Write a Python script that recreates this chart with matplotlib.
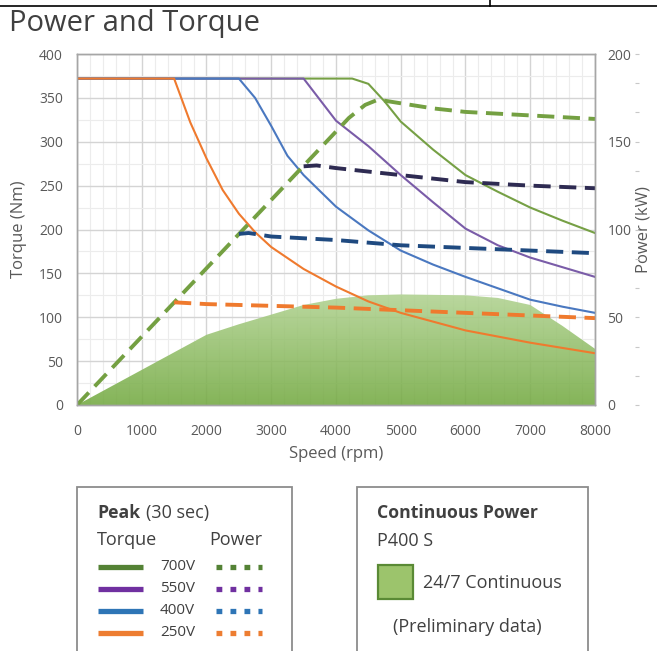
import numpy as np
import matplotlib.pyplot as plt
from matplotlib.patches import Polygon, Rectangle
from matplotlib.lines import Line2D
from matplotlib.colors import LinearSegmentedColormap
from matplotlib.ticker import MultipleLocator

plt.rcParams['font.family'] = ['Open Sans', 'DejaVu Sans']

# --- data ---
voltages = ['700V', '550V', '400V', '250V']

# peak torque (Nm) vs speed (rpm)
speed_700 = [0, 4250, 4500, 4750, 5000, 5500, 6000, 6500, 7000, 7500, 8000]
torque_700 = [372, 372, 366, 346, 323, 291, 262, 243, 225, 210, 196]
speed_550 = [0, 3500, 3750, 4000, 4500, 5000, 5500, 6000, 6500, 7000, 7500, 8000]
torque_550 = [372, 372, 348, 324, 295, 262, 231, 201, 182, 168, 157, 146]
speed_400 = [0, 2500, 2750, 3000, 3250, 3500, 4000, 4500, 5000, 5500, 6000, 6500, 7000, 7500, 8000]
torque_400 = [372, 372, 350, 318, 284, 262, 226, 199, 176, 160, 146, 133, 120, 112, 105]
speed_250 = [0, 1500, 1750, 2000, 2250, 2500, 2750, 3000, 3500, 4000, 4500, 5000, 5500, 6000, 6500, 7000, 7500, 8000]
torque_250 = [372, 372, 322, 281, 245, 218, 197, 180, 155, 135, 118, 105, 95, 85, 78, 71, 65, 59]

# peak power (kW) vs speed (rpm)
pspeed_700 = [0, 4200, 4450, 4650, 4900, 5500, 6000, 7000, 8000]
power_700 = [0, 163.6, 171, 174, 172.5, 169, 167, 165, 163]
pspeed_550 = [3500, 3700, 4000, 5000, 6000, 7000, 8000]
power_550 = [136, 136.5, 135, 131, 127, 125, 123.5]
pspeed_400 = [2500, 2650, 3000, 4000, 5000, 6000, 7000, 8000]
power_400 = [97.5, 98, 96, 94, 91, 89.5, 88, 86.5]
pspeed_250 = [1500, 2000, 3000, 4000, 5000, 6000, 7000, 8000]
power_250 = [58.5, 57.5, 56.5, 55.5, 54, 52.5, 51, 49.5]

# continuous power P400 S (kW)
cont_speed = [0, 1000, 2000, 2500, 3000, 3500, 4000, 4500, 5000, 6000, 6500, 7000, 7500, 8000]
cont_power = [0, 20, 40, 46, 51.5, 57, 60.5, 62.5, 63, 62.5, 61, 57, 45, 32]

x_ticks = [0, 1000, 2000, 3000, 4000, 5000, 6000, 7000, 8000]
torque_ticks = [0, 50, 100, 150, 200, 250, 300, 350, 400]
power_ticks = [0, 50, 100, 150, 200]

torque_colors = ['#76a045', '#7a5ca8', '#4a78c0', '#ef7a2e']
power_colors = ['#74a042', '#2e2b52', '#1f4a80', '#ef7a2e']
legend_colors = ['#548235', '#7030a0', '#2e75b6', '#ed7d31']
txt = '#404040'
tick_col = '#595959'

W, H = 657, 651
fig = plt.figure(figsize=(W / 100, H / 100), dpi=100)


def px(x, y):
    return x / W, 1 - y / H


ax = fig.add_axes([77 / W, 1 - 405 / H, 518 / W, 351 / H])
ax2 = ax.twinx()

# grid
ax.set_axisbelow(True)
ax.xaxis.set_minor_locator(MultipleLocator(200))
ax.yaxis.set_minor_locator(MultipleLocator(25))
ax.grid(which='major', color='#d4d4d4', lw=1.0)
ax.grid(which='minor', color='#ececec', lw=0.8)

# continuous power fill with gradient, drawn in power units
verts = list(zip(cont_speed, cont_power)) + [(cont_speed[-1], 0), (cont_speed[0], 0)]
clip = Polygon(verts, closed=True, transform=ax2.transData, facecolor='none', edgecolor='none')
ax.add_patch(clip)
cmap = LinearSegmentedColormap.from_list('g', ['#74aa42', '#b3d494'])
grad = np.linspace(0, 1, 256).reshape(-1, 1)
im = ax.imshow(grad, extent=[0, 8000, 0, 130], origin='lower', aspect='auto',
               cmap=cmap, alpha=0.88, zorder=1, interpolation='bilinear')
im.set_clip_path(clip)

# torque lines
t_series = [(speed_700, torque_700), (speed_550, torque_550),
            (speed_400, torque_400), (speed_250, torque_250)]
for (s, t), c in zip(t_series, torque_colors):
    ax.plot(s, t, color=c, lw=1.5, zorder=3, solid_joinstyle='round')

# power lines
p_series = [(pspeed_700, power_700), (pspeed_550, power_550),
            (pspeed_400, power_400), (pspeed_250, power_250)]
for (s, p), c in zip(p_series, power_colors):
    ax2.plot(s, p, color=c, lw=2.8, ls=(0, (4.4, 2.2)), dash_capstyle='butt')

ax.set_xlim(0, 8000)
ax.set_ylim(0, 400)
ax2.set_ylim(0, 200)
ax.set_xticks(x_ticks)
ax.set_yticks(torque_ticks)
ax2.set_yticks(power_ticks)

for a in (ax, ax2):
    a.tick_params(which='both', length=0, labelsize=10, labelcolor=tick_col)
    for sp in a.spines.values():
        sp.set_color('#a6a6a6')
        sp.set_linewidth(1.0)
ax.tick_params(axis='y', pad=10)
ax.tick_params(axis='x', pad=14)
ax2.tick_params(axis='y', pad=9)

# small marks right of the power labels
mark_vals = np.arange(0, 201, 50 / 3)
ax2.plot(np.full(len(mark_vals), 1.081), mark_vals, ls='none', marker='_', ms=3,
         mew=0.8, color='#c8c8c8', transform=ax2.get_yaxis_transform(), clip_on=False)

ax.set_xlabel('Speed (rpm)', fontsize=12, color=tick_col, labelpad=5)
ax.set_ylabel('Torque (Nm)', fontsize=12, color=tick_col, labelpad=9)
ax2.set_ylabel('Power (kW)', fontsize=12, color=tick_col, labelpad=3)

# title and page header rule
fig.text(*px(9, 24), 'Power and Torque', fontsize=21, color=txt, va='center', ha='left')
fig.add_artist(Line2D([0, 1], [1 - 6 / H] * 2, color='black', lw=1.2, transform=fig.transFigure))
fig.add_artist(Line2D([490 / W] * 2, [1 - 6 / H, 1], color='black', lw=1.2, transform=fig.transFigure))

# legend boxes
for x0, x1 in [(77, 292), (357, 588)]:
    fig.add_artist(Rectangle(px(x0, 680), (x1 - x0) / W, (680 - 487) / H,
                             transform=fig.transFigure, facecolor='none',
                             edgecolor='#8c8c8c', lw=1.3))

fig.text(*px(97, 513), 'Peak', fontsize=12.7, fontweight='bold', color=txt, va='center')
fig.text(*px(146, 513), '(30 sec)', fontsize=13, color=txt, va='center')
fig.text(*px(97, 540), 'Torque', fontsize=13, color=txt, va='center')
fig.text(*px(209, 540), 'Power', fontsize=13, color=txt, va='center')
row_y = [567, 589, 611, 633]
for v, c, y in zip(voltages, legend_colors, row_y):
    fig.add_artist(Line2D([98 / W, 143 / W], [1 - y / H] * 2, color=c, lw=3.8,
                          solid_capstyle='butt', transform=fig.transFigure))
    fig.text(*px(160, y), v, fontsize=11, color=txt, va='center')
    fig.add_artist(Line2D([216 / W, 262 / W], [1 - y / H] * 2, color=c, lw=3.8,
                          ls=(0, (1.1, 1.55)), dash_capstyle='butt',
                          transform=fig.transFigure))

fig.text(*px(377, 513), 'Continuous Power', fontsize=12.7, fontweight='bold', color=txt, va='center')
fig.text(*px(377, 541), 'P400 S', fontsize=13, color=txt, va='center')
fig.add_artist(Rectangle(px(378, 599), 35 / W, 34 / H, transform=fig.transFigure,
                         facecolor='#9cc46c', edgecolor='#5a8a35', lw=1.6))
fig.text(*px(423, 583), '24/7 Continuous', fontsize=13, color=txt, va='center')
fig.text(*px(393, 627), '(Preliminary data)', fontsize=13, color=txt, va='center')

fig.savefig('out.png', dpi=100)
